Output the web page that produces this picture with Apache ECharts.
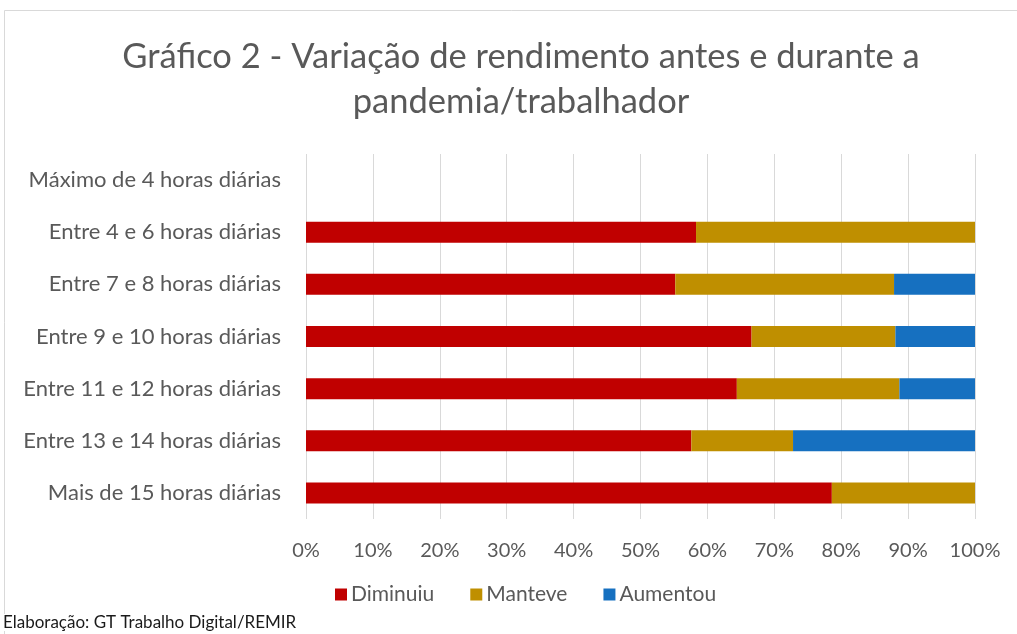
<!DOCTYPE html>
<html>
<head>
    <meta charset="utf-8">
    <title>Gráfico 2</title>
    <script src="https://cdn.jsdelivr.net/npm/echarts@6/dist/echarts.min.js"></script>
    <style>
        html, body { margin: 0; padding: 0; background: #fff; }
        #main { width: 1017px; height: 634px; }
    </style>
</head>
<body>
<div id="main"></div>
<script>
    // categorias (de cima para baixo)
    var categorias = [
        'Máximo de 4 horas diárias',
        'Entre 4 e 6 horas diárias',
        'Entre 7 e 8 horas diárias',
        'Entre 9 e 10 horas diárias',
        'Entre 11 e 12 horas diárias',
        'Entre 13 e 14 horas diárias',
        'Mais de 15 horas diárias'
    ];
    var diminuiu = [0, 58.3, 55.2, 66.6, 64.4, 57.6, 78.6];
    var manteve  = [0, 41.7, 32.7, 21.5, 24.3, 15.2, 21.4];
    var aumentou = [0, 0,    12.1, 11.9, 11.3, 27.2, 0];
    var nomes = ['Diminuiu', 'Manteve', 'Aumentou'];
    var cores = ['#c00000', '#bf8f00', '#1670c0'];

    var fonte = 'Lato, "Open Sans", sans-serif';
    var chart = echarts.init(document.getElementById('main'));

    var dados = [diminuiu, manteve, aumentou];
    var series = nomes.map(function (n, i) {
        return {
            name: n,
            type: 'bar',
            stack: 'total',
            barWidth: 21,
            itemStyle: { color: cores[i] },
            data: dados[i]
        };
    });

    var option = {
        animation: false,
        backgroundColor: '#fff',
        title: {
            text: 'Gráfico 2 - Variação de rendimento antes e durante a\npandemia/trabalhador',
            left: 516,
            textAlign: 'center',
            top: 29,
            textStyle: {
                fontFamily: fonte,
                fontSize: 34.5,
                fontWeight: 'normal',
                color: '#595959',
                lineHeight: 45
            }
        },
        legend: {
            bottom: 24,
            left: 330,
            itemWidth: 12,
            itemHeight: 12,
            itemGap: 36,
            icon: 'rect',
            textStyle: { fontFamily: fonte, fontSize: 21, color: '#595959', padding: [0, 0, 0, -1] },
            data: nomes
        },
        grid: { left: 306, right: 42, top: 154, bottom: 115 },
        xAxis: {
            type: 'value',
            min: 0,
            max: 100,
            interval: 10,
            axisLine: { show: false },
            axisTick: { show: false },
            splitLine: { lineStyle: { color: '#d9d9d9', width: 1 } },
            axisLabel: {
                formatter: '{value}%',
                margin: 22,
                fontFamily: fonte,
                fontSize: 20,
                color: '#595959'
            }
        },
        yAxis: {
            type: 'category',
            inverse: true,
            data: categorias,
            axisLine: { show: false },
            axisTick: { show: false },
            axisLabel: {
                margin: 25,
                fontFamily: fonte,
                fontSize: 22,
                color: '#595959'
            }
        },
        graphic: [
            {
                type: 'rect',
                z: -1,
                shape: { x: 4.5, y: 10.5, width: 1030, height: 700 },
                style: { fill: 'none', stroke: '#d9d9d9', lineWidth: 1 }
            },
            {
                type: 'text',
                left: 3,
                top: 614,
                style: {
                    text: 'Elaboração: GT Trabalho Digital/REMIR',
                    fontFamily: fonte,
                    fontSize: 17,
                    fill: '#1a1a1a',
                    backgroundColor: '#fff'
                }
            }
        ],
        series: series
    };
    chart.setOption(option);
</script>
</body>
</html>
